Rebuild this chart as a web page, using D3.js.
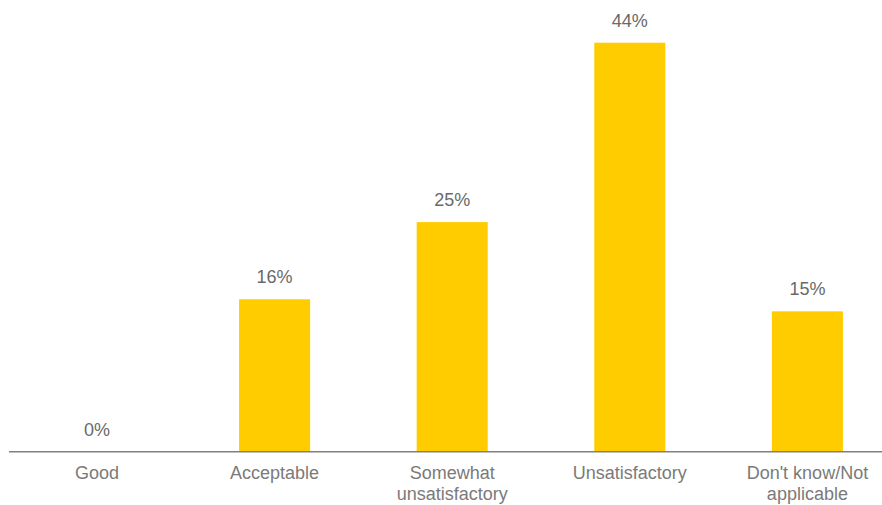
<!DOCTYPE html>
<html>
<head>
<meta charset="utf-8">
<script src="https://cdn.jsdelivr.net/npm/d3@7"></script>
<style>
  html, body { margin: 0; padding: 0; background: #fff; }
  svg { display: block; }
</style>
</head>
<body>
<svg id="chart" width="882" height="505"></svg>
<script>
// Data
const categories = ["Good", "Acceptable", "Somewhat unsatisfactory", "Unsatisfactory", "Don't know/Not applicable"];
const categoryLines = [["Good"], ["Acceptable"], ["Somewhat", "unsatisfactory"], ["Unsatisfactory"], ["Don't know/Not", "applicable"]];
const values = [0, 16.4, 24.7, 44.0, 15.1];

const W = 882, H = 505;
const baseline = 451.7;
const svg = d3.select("#chart");

const x = d3.scaleBand()
  .domain(categories)
  .range([8.2, 896.2])
  .paddingInner(0.6)
  .paddingOuter(0.3);

const y = d3.scaleLinear()
  .domain([0, 44])
  .range([baseline, 42.7]);

const font = "'Liberation Sans', Arial, sans-serif";

// Bars
svg.append("g").selectAll("rect")
  .data(values)
  .join("rect")
  .attr("x", (d, i) => x(categories[i]))
  .attr("width", x.bandwidth())
  .attr("y", d => y(d))
  .attr("height", d => baseline - y(d))
  .attr("fill", "#FFCC00");

// Value labels
svg.append("g").selectAll("text")
  .data(values)
  .join("text")
  .attr("x", (d, i) => x(categories[i]) + x.bandwidth() / 2)
  .attr("y", d => y(d) - 16)
  .attr("text-anchor", "middle")
  .attr("font-family", font)
  .attr("font-size", 18)
  .attr("fill", "#6a6a6a")
  .text(d => Math.round(d) + "%");

// Axis
const axis = d3.axisBottom(x).tickSize(0).tickFormat("");
const gAxis = svg.append("g")
  .attr("transform", `translate(0,${baseline})`)
  .call(axis);
gAxis.select(".domain").remove();
gAxis.append("line")
  .attr("x1", 9).attr("x2", W)
  .attr("y1", 0).attr("y2", 0)
  .attr("stroke", "#808080")
  .attr("stroke-width", 1.5);

gAxis.selectAll(".tick").each(function(d, i) {
  const t = d3.select(this).append("text")
    .attr("text-anchor", "middle")
    .attr("font-family", font)
    .attr("font-size", 18)
    .attr("fill", "#7a7a7a");
  categoryLines[i].forEach((line, j) => {
    t.append("tspan")
      .attr("x", 0)
      .attr("y", 27.6 + j * 20.7)
      .text(line);
  });
});
</script>
</body>
</html>
